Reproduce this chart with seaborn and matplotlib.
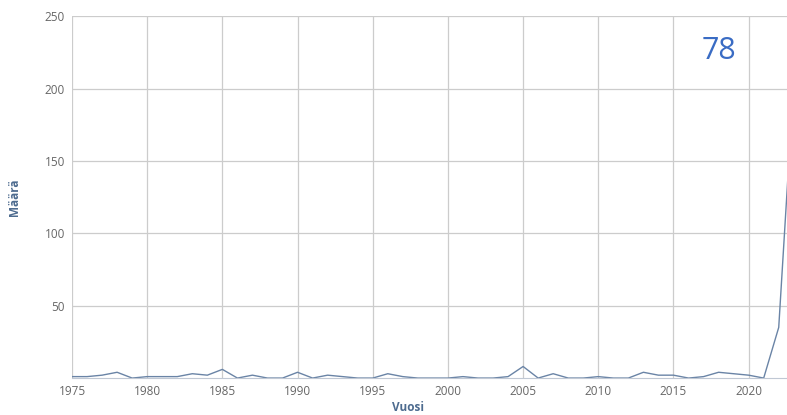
import numpy as np
import pandas as pd
import seaborn as sns
import matplotlib.pyplot as plt

years = list(range(1975, 2024))
counts = [1, 1, 2, 4, 0, 1, 1, 1, 3, 2,
          6, 0, 2, 0, 0, 4, 0, 2, 1, 0,
          0, 3, 1, 0, 0, 0, 1, 0, 0, 1,
          8, 0, 3, 0, 0, 1, 0, 0, 4, 2,
          2, 0, 1, 4, 3, 2, 0, 35, 205]
x_ticks = [1975, 1980, 1985, 1990, 1995, 2000, 2005, 2010, 2015, 2020]
y_ticks = [50, 100, 150, 200, 250]
big_label = "78"

df = pd.DataFrame({"Vuosi": years, "Määrä": counts})

sns.set_style("white")
plt.rcParams["font.family"] = ["Open Sans", "DejaVu Sans"]

fig = plt.figure(figsize=(7.87, 4.15), dpi=100)
ax = fig.add_axes([0.0915, 0.089, 0.9085, 0.872])

sns.lineplot(data=df, x="Vuosi", y="Määrä", color="#6a84a6", linewidth=1.0, ax=ax)

ax.set_xlim(1975, 2022.55)
ax.set_ylim(0, 250)
ax.set_xticks(x_ticks)
ax.set_yticks(y_ticks)
ax.grid(True, color="#cccccc", linewidth=0.9)
ax.set_axisbelow(True)
for s in ["top", "right", "left"]:
    ax.spines[s].set_visible(False)
ax.spines["bottom"].set_color("#c0c8d4")
ax.tick_params(axis="both", colors="#c8c8c8", labelcolor="#666666", labelsize=8.5, length=4, pad=1)
ax.set_xlabel("Vuosi", fontsize=8.5, fontweight="bold", color="#4d6b8f")
ax.xaxis.set_label_coords(0.47, -0.062)
ax.set_ylabel("Määrä", fontsize=8.5, fontweight="bold", color="#4d6b8f")
ax.yaxis.set_label_coords(-0.072, 0.5)
ax.text(0.905, 0.905, big_label, transform=ax.transAxes, fontsize=22,
        color="#3a6cc4", ha="center", va="center")

fig.savefig("out.png", dpi=100)
